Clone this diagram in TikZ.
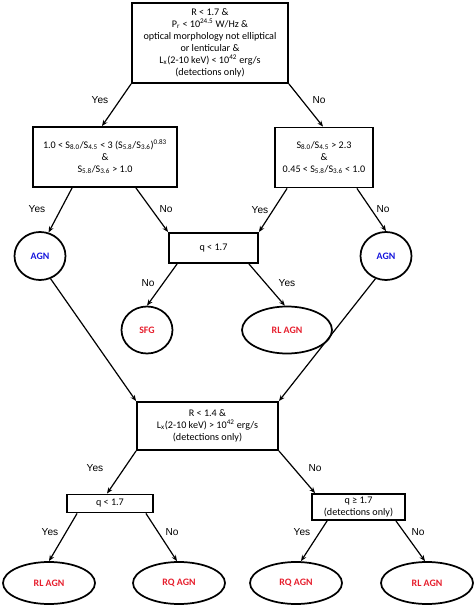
\documentclass[tikz,border=0pt]{standalone}
\usepackage{fontspec}
\setmainfont{Carlito}
\newfontfamily\labfont{Liberation Sans}
\usetikzlibrary{shapes.geometric,arrows.meta,calc}
\definecolor{agnblue}{RGB}{20,20,220}
\definecolor{agnred}{RGB}{230,30,45}
\tikzset{
  box/.style={draw,line width=1.4pt,inner sep=1pt,align=center,font=\fontsize{7.6}{9}\selectfont},
  oval/.style={draw,line width=1.3pt,ellipse,inner sep=0pt,font=\fontsize{7.4}{9}\selectfont\bfseries},
  conn/.style={line width=0.9pt,-{Stealth[length=4.5pt,width=3.6pt]}},
  lab/.style={font=\labfont\fontsize{7.6}{9}\selectfont,inner sep=0pt}
}
\begin{document}
\begin{tikzpicture}[x=0.75pt,y=-0.75pt]
\useasboundingbox (0,0) rectangle (474,609);
% boxes
\node[box,minimum width=117pt,minimum height=60pt] (top) at (210,43)
  {R < 1.7 \&\\P\textsubscript{r} < 10\textsuperscript{24.5} W/Hz \&\\optical morphology not elliptical\\or lenticular \&\\L\textsubscript{x}(2-10 keV) < 10\textsuperscript{42} erg/s\\(detections only)};
\node[box,minimum width=108pt,minimum height=45pt] (lbox) at (105,157)
  {1.0 < S\textsubscript{8.0}/S\textsubscript{4.5} < 3 (S\textsubscript{5.8}/S\textsubscript{3.6})\textsuperscript{0.83}\\\&\\S\textsubscript{5.8}/S\textsubscript{3.6} > 1.0};
\node[box,minimum width=73.5pt,minimum height=45pt] (rbox) at (324,157.5)
  {S\textsubscript{8.0}/S\textsubscript{4.5} > 2.3\\\&\\0.45 < S\textsubscript{5.8}/S\textsubscript{3.6} < 1.0};
\node[box,minimum width=66.75pt,minimum height=22.5pt] (qbox) at (213.5,248) {q < 1.7};
\node[box,minimum width=105.75pt,minimum height=36pt] (lowbox) at (207.5,426)
  {R < 1.4 \&\\L\textsubscript{x}(2-10 keV) > 10\textsuperscript{42} erg/s\\(detections only)};
\node[box,minimum width=64.5pt,minimum height=13.5pt] (qL) at (110,503.5) {q < 1.7};
\node[box,minimum width=69.75pt,minimum height=19.5pt,inner sep=0.5pt] (qR) at (358.5,507)
  {q ≥ 1.7\\(detections only)};
% ovals
\node[oval,text=agnblue,minimum width=38.25pt,minimum height=36pt] (agnL) at (40,256) {AGN};
\node[oval,text=agnblue,minimum width=38.25pt,minimum height=36pt] (agnR) at (386,256) {AGN};
\node[oval,text=agnred,minimum width=38.25pt,minimum height=35.25pt] (sfg) at (147,330) {SFG};
\node[oval,text=agnred,minimum width=67.5pt,minimum height=35.25pt] (rl1) at (287,330) {RL AGN};
\node[oval,text=agnred,minimum width=69pt,minimum height=31.5pt] (e1) at (49,583) {RL AGN};
\node[oval,text=agnred,minimum width=69pt,minimum height=31.5pt] (e2) at (179,583) {RQ AGN};
\node[oval,text=agnred,minimum width=69pt,minimum height=31.5pt] (e3) at (296,583) {RQ AGN};
\node[oval,text=agnred,minimum width=69pt,minimum height=31.5pt] (e4) at (427,583) {RL AGN};
% connectors
\draw[conn] (top.south west) -- ($(lbox.north)+(-3,0)$);
\draw[conn] (top.south east) -- ($(rbox.north)+(-1,0)$);
\draw[conn] ($(lbox.south west)+(40,0)$) -- (agnL.70);
\draw[conn] ($(lbox.south east)+(-42,0)$) -- (qbox.north west);
\draw[conn] ($(rbox.south west)+(13,0)$) -- (qbox.north east);
\draw[conn] ($(rbox.south east)+(-17,0)$) -- (agnR.north);
\draw[conn] ($(qbox.south west)+(9,0)$) -- (sfg.north);
\draw[conn] ($(qbox.south east)+(-10,0)$) -- (rl1.95);
\draw[conn] (agnL.-65) -- (lowbox.north west);
\draw[conn] (agnR.-115) -- (lowbox.north east);
\draw[conn] (lowbox.south west) -- ($(qL.north)+(-3,0)$);
\draw[conn] (lowbox.south east) -- ($(qR.north west)+(4,0)$);
\draw[conn] ($(qL.south west)+(11,0)$) -- (e1.north);
\draw[conn] ($(qL.south east)+(-8,0)$) -- ($(e2.north)+(-2,0)$);
\draw[conn] ($(qR.south west)+(16,0)$) -- ($(e3.north)+(5,0)$);
\draw[conn] ($(qR.south east)+(-10,0)$) -- ($(e4.north)+(-2,0)$);
% labels
\node[lab] (l1) at (100,100) {Yes};
\node[lab] (l2) at (319,100) {No};
\node[lab] (l3) at (37,209) {Yes};
\node[lab] (l4) at (166,209) {No};
\node[lab] (l5) at (260,210) {Yes};
\node[lab] (l6) at (383,209) {No};
\node[lab] (l7) at (148,283) {No};
\node[lab] (l8) at (287,283) {Yes};
\node[lab] (l9) at (95,468) {Yes};
\node[lab] (l10) at (315,468) {No};
\node[lab] (l11) at (50,532) {Yes};
\node[lab] (l12) at (172,532) {No};
\node[lab] (l13) at (302,532) {Yes};
\node[lab] (l14) at (418,532) {No};
\end{tikzpicture}
\end{document}
